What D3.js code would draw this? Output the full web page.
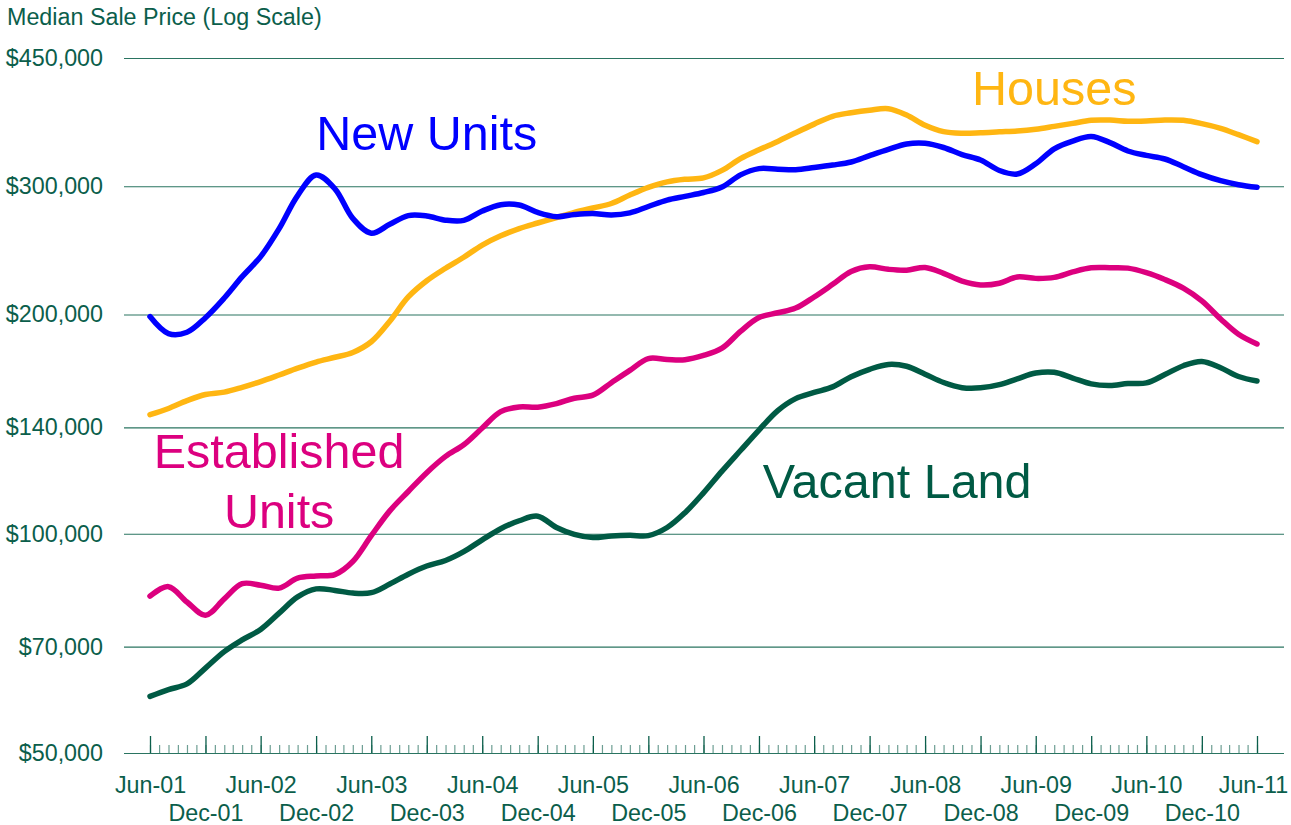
<!DOCTYPE html>
<html>
<head>
<meta charset="utf-8">
<script src="https://cdn.jsdelivr.net/npm/d3@7"></script>
<style>
  html, body { margin: 0; padding: 0; background: #ffffff; }
  svg { display: block; font-family: "Liberation Sans", Arial, sans-serif; }
</style>
</head>
<body>
<svg id="chart" width="1291" height="825"></svg>
<script>
// ---- Data (every 2 months, Jun-01 .. Jun-11) ----
const startMonth = "2001-06";
const stepMonths = 2;

const newUnits = [198700,188300,189100,198000,210700,225400,240200,262400,291300,310900,
  297600,271000,258600,266000,273400,273100,269500,269300,277400,283000,
  282700,276200,272500,274400,275300,273900,275800,281400,287200,290600,
  294100,299300,311000,317200,316600,316100,318300,320800,323900,330500,
  337100,342900,343700,339100,331600,326000,315300,311800,322100,337700,
  346100,351100,344400,335400,330700,327000,319100,311200,305300,301500,299000];

const houses = [145700,148600,152300,155300,156500,158900,161800,165200,168800,172100,
  174700,177400,183500,195800,211400,222500,231500,239700,249100,256500,
  262400,267100,271700,276100,280100,284100,291800,298900,304200,306700,
  308000,315400,327400,336700,345700,355300,365100,374300,378500,381600,
  383400,375800,363800,356600,354800,355300,356300,357200,359200,362500,
  366000,369600,369800,368500,368600,369900,369500,365700,360300,353100,345400];

const establishedUnits = [82100,84600,80600,77300,81400,85400,85000,84200,86900,87500,
  87900,91600,99400,107500,114300,121300,127700,132500,139700,147100,
  149300,149200,150900,153500,155000,161200,167600,174000,173500,173400,
  175700,179800,189600,198100,201100,204100,211400,220000,229200,232600,
  230700,230100,232100,227800,222300,219600,220800,225200,224200,224900,
  228800,231800,231900,231600,228300,223400,217400,208800,197200,187900,182200];

const vacantLand = [59800,61100,62200,65400,68900,71500,73900,77800,81900,84000,
  83600,82900,83000,85300,88000,90300,91900,94500,98100,101600,
  104200,105700,102000,99800,98800,99300,99500,99400,102000,106900,
  113800,121900,130100,138800,147600,153300,156300,159100,164300,168200,
  170800,169800,165600,161300,158700,158600,160200,163200,166200,166600,
  163600,160600,159800,160800,161100,165400,170100,172400,169000,164400,162100];

const yTickValues = [50000, 70000, 100000, 140000, 200000, 300000, 450000];
const yTitle = "Median Sale Price (Log Scale)";

const seriesNames = ["New Units", "Houses", "Established Units", "Vacant Land"];
const seriesColors = ["#0000ff", "#ffb612", "#dc007f", "#005a44"];

// annotation labels
const labelTexts = [["New Units"], ["Houses"], ["Established", "Units"], ["Vacant Land"]];
const labelDates = ["2003-12", "2009-08", "2002-08", "2008-03"];
const labelValues = [336400, 387900, 123100, 112000];

// ---- Layout ----
const svg = d3.select("#chart");
const W = 1291, H = 825;
const plotLeft = 124, plotRight = 1284;
const textColor = "#0b5e4b";
const gridColor = "#2a7461";
const axisFont = 23.3;
const parseMonth = d3.utcParse("%Y-%m");

const dates = d3.range(newUnits.length).map(i => d3.utcMonth.offset(parseMonth(startMonth), i * stepMonths));

const x = d3.scaleUtc()
  .domain([parseMonth("2001-06"), parseMonth("2011-06")])
  .range([150, 1257]);

const y = d3.scaleLog()
  .domain([50000, 450000])
  .range([753, 58]);

svg.append("rect").attr("width", W).attr("height", H).attr("fill", "#fff");

// Y axis with gridlines
const fmt = d3.format("$,");
const yAxis = d3.axisLeft(y)
  .tickValues(yTickValues)
  .tickFormat(d => fmt(d))
  .tickSizeInner(-(plotRight - plotLeft))
  .tickSizeOuter(0)
  .tickPadding(21);

const gy = svg.append("g")
  .attr("transform", `translate(${plotLeft},0)`)
  .call(yAxis);
gy.select(".domain").remove();
gy.selectAll(".tick line").attr("stroke", gridColor).attr("stroke-width", 1.2);
gy.selectAll(".tick text")
  .attr("fill", textColor)
  .attr("font-size", axisFont)
  .attr("font-family", "Liberation Sans, Arial, sans-serif");

// Title
svg.append("text")
  .attr("x", 7).attr("y", 25)
  .attr("fill", textColor)
  .attr("font-size", axisFont)
  .text(yTitle);

// X axis: minor monthly ticks
const allMonths = d3.utcMonth.range(parseMonth("2001-06"), d3.utcMonth.offset(parseMonth("2011-06"), 1));
const majorMonths = allMonths.filter(d => d.getUTCMonth() === 5 || d.getUTCMonth() === 11);
const lastMonth = majorMonths[majorMonths.length - 1];

const gxMinor = svg.append("g")
  .attr("transform", "translate(0,753)")
  .call(d3.axisBottom(x).tickValues(allMonths).tickSizeInner(-8).tickSizeOuter(0).tickFormat(""));
gxMinor.select(".domain").remove();
gxMinor.selectAll(".tick line").attr("stroke", textColor).attr("stroke-opacity", 0.6).attr("stroke-width", 1.2);

const gxMajor = svg.append("g")
  .attr("transform", "translate(0,753)")
  .call(d3.axisBottom(x).tickValues(majorMonths).tickSizeInner(-17).tickSizeOuter(0)
    .tickFormat(d3.utcFormat("%b-%y")));
gxMajor.select(".domain").remove();
gxMajor.selectAll(".tick line").attr("stroke", textColor).attr("stroke-width", 1.3);
gxMajor.selectAll(".tick text")
  .attr("fill", textColor)
  .attr("font-size", axisFont)
  .attr("font-family", "Liberation Sans, Arial, sans-serif")
  .attr("dy", 0)
  .attr("x", d => (+d === +lastMonth) ? -4 : 0)
  .attr("y", d => d.getUTCMonth() === 5 ? 40 : 68);

// Lines
const seriesData = [newUnits, houses, establishedUnits, vacantLand];
const line = d3.line()
  .x((d, i) => x(dates[i]))
  .y(d => y(d))
  .curve(d3.curveCatmullRom.alpha(0.5));

const drawOrder = [3, 2, 1, 0];
drawOrder.forEach(si => {
  svg.append("path")
    .datum(seriesData[si])
    .attr("fill", "none")
    .attr("stroke", seriesColors[si])
    .attr("stroke-width", 5.5)
    .attr("stroke-linecap", "round")
    .attr("stroke-linejoin", "round")
    .attr("d", line);
});

// Series labels
labelTexts.forEach((lines, si) => {
  const t = svg.append("text")
    .attr("x", x(parseMonth(labelDates[si])))
    .attr("y", y(labelValues[si]))
    .attr("text-anchor", "middle")
    .attr("fill", seriesColors[si])
    .attr("font-size", 48.5);
  lines.forEach((ln, j) => {
    t.append("tspan")
      .attr("x", x(parseMonth(labelDates[si])))
      .attr("dy", j === 0 ? 0 : 60)
      .text(ln);
  });
});
</script>
</body>
</html>
